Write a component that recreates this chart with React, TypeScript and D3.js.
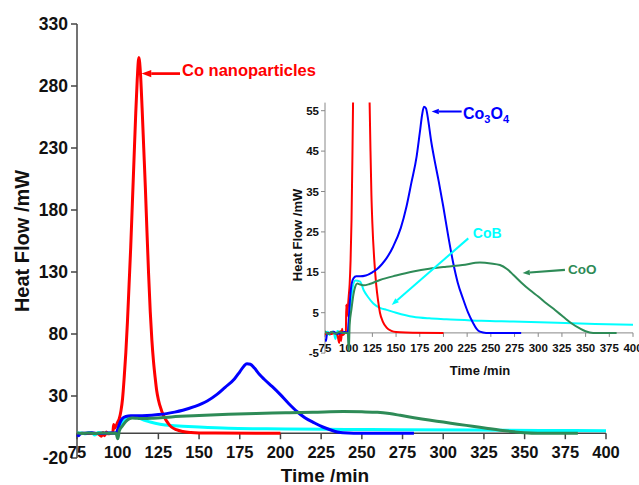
import React from "react";
import * as d3 from "d3";

// Co nanoparticles (red)
const coTime = [75, 78, 82, 85, 88, 90, 91, 92, 93, 94, 96, 97, 97.5, 98, 99, 100, 101, 102, 103, 104, 105, 106, 107, 108, 109, 110, 111, 112, 113, 114, 115, 116, 117, 118, 119, 120, 121, 122, 123, 124, 125, 127, 129, 131, 133, 136, 140, 145, 150, 160, 200];
const coFlow = [-0.5, 0, -0.3, 0, -0.5, -2.5, 0.5, -2, 1, -0.5, 0, 0.3, 7, 4, 6, 9, 12, 18, 28, 45, 65, 90, 120, 150, 185, 220, 255, 285, 303, 290, 262, 230, 198, 162, 128, 98, 75, 58, 45, 34, 27, 18, 12, 8, 5, 2.8, 1.3, 0.5, 0.2, 0.1, 0];

// Co3O4 (blue)
const co3o4Time = [75, 76, 77, 80, 84, 88, 92, 96, 99, 100, 101, 102, 103, 105, 108, 112, 118, 125, 130, 135, 140, 147, 155, 161, 166, 171.7, 175, 177.5, 179.4, 181.5, 184, 187, 190, 195, 199.8, 205, 210.3, 215, 221, 226, 231.4, 235, 238.5, 245, 282];
const co3o4Flow = [-1.5, -2, -0.5, 0, 0.3, -0.2, 0, 0.2, 0, 3, 7, 10, 12, 13.5, 14, 14, 14.2, 15, 15.8, 17, 18.5, 21.4, 26, 31.3, 37, 43.7, 49.5, 54, 56, 55.6, 52.5, 47.5, 43.5, 37.5, 31.3, 24, 17.3, 12.5, 8.2, 5, 2.4, 1, 0.3, 0, 0];

// CoB (cyan)
const cobTime = [75, 78, 80, 82, 84, 86, 88, 92, 96, 99, 100, 102, 104, 107, 112, 116, 120, 126, 133, 140, 150, 168, 185, 203, 240, 273.6, 320, 360, 400];
const cobFlow = [0, 0.3, -0.5, 0.3, 0.3, -1.5, 0.5, 0, 0.2, 0, 2, 7, 11, 13, 12.7, 10.5, 9, 7.3, 6.2, 5.7, 5, 4, 3.6, 3.4, 3, 2.8, 2.5, 2.2, 2];

// CoO (green)
const cooTime = [75, 78, 82, 86, 90, 94, 99, 100, 100.5, 101, 103, 105, 107, 109, 112, 116, 122, 133, 150, 168, 185, 203, 220, 238.5, 250, 259.6, 267, 273.6, 282, 291.2, 300, 308.8, 318, 326.4, 335, 343.9, 350, 357.9, 382.7];
const cooFlow = [0.5, -0.3, 0.2, -0.2, 0.2, 0, 0, -4.5, -2, 2, 6, 9.5, 11.5, 12.2, 12, 11.8, 12.1, 13.1, 14.2, 15.2, 15.9, 16.4, 16.8, 17.4, 17.2, 16.8, 15.8, 14.4, 12.5, 10.6, 9, 7.3, 5.6, 4, 2.4, 1.1, 0.4, 0, 0];

const timeTicks = [75, 100, 125, 150, 175, 200, 225, 250, 275, 300, 325, 350, 375, 400];
const mainFlowTicks = [-20, 30, 80, 130, 180, 230, 280, 330];
const insetFlowTicks = [-5, 5, 15, 25, 35, 45, 55];

const RED = "#ff0000";
const BLUE = "#0000ff";
const CYAN = "#00ffff";
const GREEN = "#2e8b57";
const FONT = "'Liberation Sans', Arial, sans-serif";

const series = [
  { id: "cob", t: cobTime, v: cobFlow, color: CYAN },
  { id: "co", t: coTime, v: coFlow, color: RED },
  { id: "co3o4", t: co3o4Time, v: co3o4Flow, color: BLUE },
  { id: "coo", t: cooTime, v: cooFlow, color: GREEN }
];

type Pt = { t: number; v: number };

function Arrow({ x1, y1, x2, y2, color, size }: any) {
  const ang = Math.atan2(y2 - y1, x2 - x1);
  const back = size * 1.6;
  const bx = x2 - back * Math.cos(ang);
  const by = y2 - back * Math.sin(ang);
  const px = -Math.sin(ang) * size * 0.6;
  const py = Math.cos(ang) * size * 0.6;
  return (
    <g>
      <line x1={x1} y1={y1} x2={bx} y2={by} stroke={color} strokeWidth={size * 0.45} />
      <polygon points={`${x2},${y2} ${bx + px},${by + py} ${bx - px},${by - py}`} fill={color} />
    </g>
  );
}

export default function App() {
  // main chart scales
  const x = d3.scaleLinear().domain([75, 400]).range([77, 606]);
  const y = d3.scaleLinear().domain([30, 330]).range([396, 24]);
  // inset scales
  const xi = d3.scaleLinear().domain([75, 400]).range([325, 633]);
  const yi = d3.scaleLinear().domain([5, 55]).range([312.7, 110.7]);
  const insetTop = 57;

  const mkLine = (sx: any, sy: any) =>
    d3
      .line<Pt>()
      .curve(d3.curveMonotoneX)
      .x(d => sx(d.t))
      .y(d => sy(d.v));

  const mainLine = mkLine(x, y);
  const insetLine = mkLine(xi, yi);
  const pts = (s: any): Pt[] => s.t.map((t: number, i: number) => ({ t, v: s.v[i] }));

  const axisColor = "#444";
  const insetAxisColor = "#888";

  return (
    <svg width={639} height={485} style={{ position: "absolute", left: 0, top: 0, background: "#fff" }} fontFamily={FONT}>
      <defs>
        <clipPath id="insetClip">
          <rect x={xi(75)} y={yi(insetTop)} width={xi(400) - xi(75) + 4} height={yi(-5) - yi(insetTop)} />
        </clipPath>
      </defs>

      {/* main axes */}
      <line x1={x(75)} x2={x(75)} y1={y(330)} y2={y(-20)} stroke={axisColor} strokeWidth={1.5} />
      {mainFlowTicks.map(d => (
        <g key={"my" + d}>
          <line x1={x(75) - 6} x2={x(75)} y1={y(d)} y2={y(d)} stroke={axisColor} strokeWidth={1.5} />
          <text x={68} y={y(d)} dy="0.35em" textAnchor="end" fontSize={17.5} fontWeight="bold" fill="#111">{d}</text>
        </g>
      ))}
      <line x1={x(75)} x2={x(400)} y1={y(0)} y2={y(0)} stroke={axisColor} strokeWidth={1.5} />
      {timeTicks.map(d => (
        <g key={"mx" + d}>
          <line x1={x(d)} x2={x(d)} y1={y(0)} y2={y(0) + 6} stroke={axisColor} strokeWidth={1.5} />
          <text x={x(d)} y={457.5} textAnchor="middle" fontSize={16.5} fontWeight="bold" fill="#111">{d}</text>
        </g>
      ))}
      <text x={325} y={482} textAnchor="middle" fontSize={19} fontWeight="bold" fill="#111">Time /min</text>
      <text transform={`translate(29,241) rotate(-90)`} textAnchor="middle" fontSize={20} fontWeight="bold" fill="#111">Heat Flow /mW</text>

      {/* main series */}
      {series.map(s => (
        <path key={"m" + s.id} d={mainLine(pts(s)) || ""} fill="none" stroke={s.color} strokeWidth={3} strokeLinejoin="round" />
      ))}

      {/* main annotation */}
      <Arrow x1={x(138.3)} y1={y(290)} x2={x(114.7)} y2={y(290)} color={RED} size={6} />
      <text x={x(139.5)} y={y(288)} fontSize={16.5} fontWeight="bold" fill={RED}>Co nanoparticles</text>

      {/* inset axes */}
      <line x1={xi(75)} x2={xi(75)} y1={yi(insetTop)} y2={yi(-5)} stroke={insetAxisColor} strokeWidth={1} />
      {insetFlowTicks.map(d => (
        <g key={"iy" + d}>
          <line x1={xi(75) - 4} x2={xi(75)} y1={yi(d)} y2={yi(d)} stroke={insetAxisColor} strokeWidth={1} />
          <text x={319} y={yi(d)} dy="0.35em" textAnchor="end" fontSize={11.5} fontWeight="bold" fill="#111">{d}</text>
        </g>
      ))}
      <line x1={xi(75)} x2={xi(400)} y1={yi(0)} y2={yi(0)} stroke={insetAxisColor} strokeWidth={1} />
      {timeTicks.map(d => (
        <g key={"ix" + d}>
          <line x1={xi(d)} x2={xi(d)} y1={yi(0)} y2={yi(0) + 4} stroke={insetAxisColor} strokeWidth={1} />
          <text x={xi(d)} y={351.5} textAnchor="middle" fontSize={11.5} fontWeight="bold" fill="#111">{d}</text>
        </g>
      ))}
      <text x={480} y={375} textAnchor="middle" fontSize={13} fontWeight="bold" fill="#111">Time /min</text>
      <text transform={`translate(302,235) rotate(-90)`} textAnchor="middle" fontSize={13} fontWeight="bold" fill="#111">Heat Flow /mW</text>

      {/* inset series */}
      <g clipPath="url(#insetClip)">
        {series.map(s => (
          <path key={"i" + s.id} d={insetLine(pts(s)) || ""} fill="none" stroke={s.color} strokeWidth={2} strokeLinejoin="round" />
        ))}
      </g>

      {/* inset annotations */}
      <Arrow x1={xi(219.2)} y1={yi(54.8)} x2={xi(187.5)} y2={yi(54.8)} color={BLUE} size={4.5} />
      <text x={xi(220.6)} y={yi(52.9)} fontSize={16} fontWeight="bold" fill={BLUE}>
        Co<tspan fontSize={11} dy={4}>3</tspan>
        <tspan dy={-4}>O</tspan>
        <tspan fontSize={11} dy={4}>4</tspan>
      </text>
      <Arrow x1={xi(226.2)} y1={yi(23.4)} x2={xi(145.4)} y2={yi(6.9)} color={CYAN} size={4.5} />
      <text x={xi(231)} y={yi(23.5)} fontSize={14} fontWeight="bold" fill={CYAN}>CoB</text>
      <Arrow x1={xi(328.2)} y1={yi(15.6)} x2={xi(283.5)} y2={yi(14.8)} color={GREEN} size={4.5} />
      <text x={xi(331.3)} y={yi(14.6)} fontSize={13.5} fontWeight="bold" fill={GREEN}>CoO</text>
    </svg>
  );
}
